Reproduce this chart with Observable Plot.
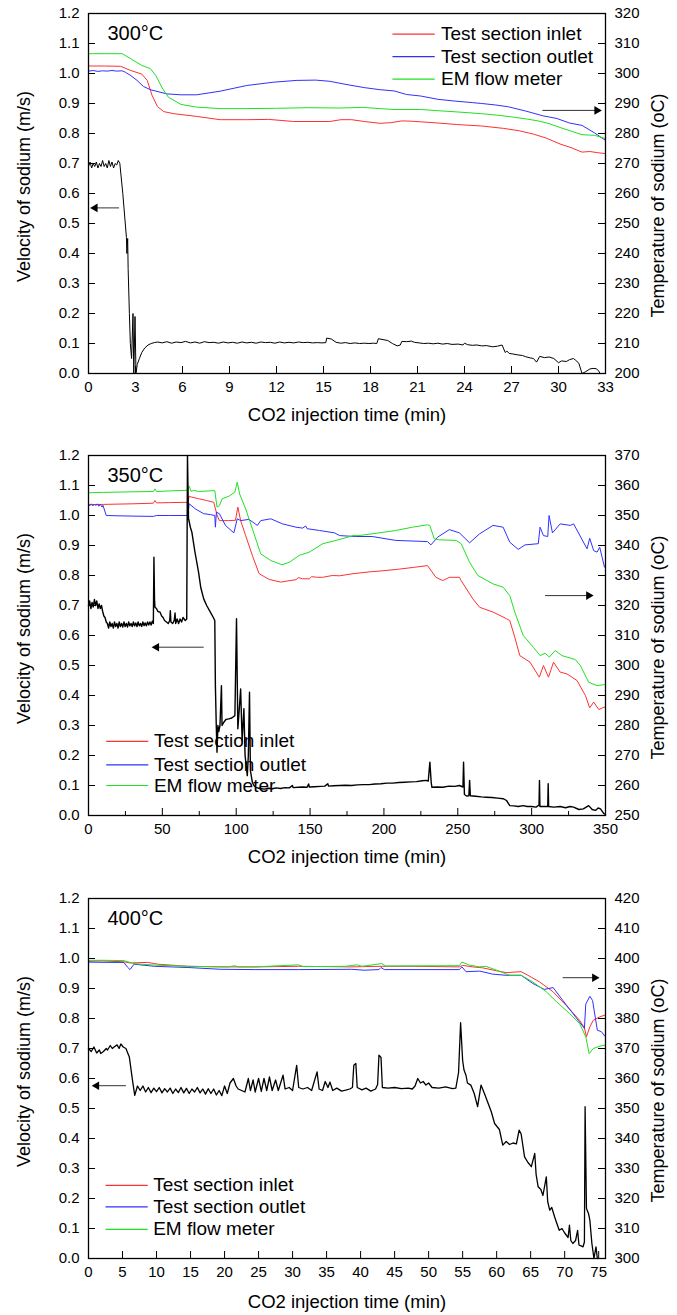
<!DOCTYPE html>
<html><head><meta charset="utf-8">
<script src="https://cdn.jsdelivr.net/npm/d3@7"></script>
<script src="https://cdn.jsdelivr.net/npm/@observablehq/plot@0.6"></script>
<style>
body{margin:0;background:#fff;}
#charts svg{display:block;}
</style></head><body><div id="charts"></div>
<script>
// ---------- shared labels ----------
const seriesNames = ["Test section inlet", "Test section outlet", "EM flow meter"];
const seriesColors = ["#ff3030", "#3030ff", "#22e022"];
const xTitle = "CO2 injection time (min)";
const yLeftTitle = "Velocity of sodium (m/s)";
const yRightTitle = "Temperature of sodium (oC)";
const velocityTicks = [0, 0.1, 0.2, 0.3, 0.4, 0.5, 0.6, 0.7, 0.8, 0.9, 1.0, 1.1, 1.2];

// ---------- panel 1 : 300°C ----------
const p1Label = "300°C";
const p1TimeTicks = [0, 3, 6, 9, 12, 15, 18, 21, 24, 27, 30, 33];
const p1TempRange = [200, 320];
const p1Inlet = [[0,302.5],[1,302.5],[2.05,302.4],[2.7,301.0],[3.4,299.8],[3.75,297.7],[4.05,292.8],[4.4,289.0],[4.8,287.3],[5.45,286.6],[6.9,285.7],[8.4,284.6],[10.1,284.6],[11.5,284.7],[13.1,284.0],[15.4,284.0],[16.1,284.6],[16.8,284.6],[17.6,284.0],[18.6,283.4],[19.3,283.6],[20.0,284.2],[20.6,284.1],[21.2,283.9],[22.3,283.5],[23.5,283.0],[25.1,282.5],[26.5,281.7],[27.5,280.9],[28.4,279.8],[29.2,278.5],[30.1,276.5],[30.8,275.3],[31.5,273.8],[32.0,274.0],[32.5,273.6],[33,273.3]];
const p1Outlet = [[0,300.8],[0.3,301.0],[0.6,300.7],[0.9,300.9],[1.2,300.8],[1.5,301.0],[1.8,300.8],[2.15,300.9],[2.36,300.4],[2.7,299.3],[3.1,297.7],[3.5,295.7],[3.95,294.6],[5.0,293.2],[5.9,292.9],[6.9,292.9],[8.4,294.1],[10.1,296.0],[11.8,297.1],[13.3,297.7],[14.5,297.8],[15.4,297.4],[16.5,296.3],[17.6,295.3],[18.6,294.6],[19.5,294.2],[20.3,293.0],[21.2,292.5],[22.3,291.4],[23.4,290.8],[24.5,290.3],[25.1,290.0],[26.0,289.5],[26.8,288.9],[27.9,287.5],[29.0,285.9],[29.9,285.0],[30.7,283.5],[31.5,282.7],[32.3,280.2],[33,277.7]];
const p1EM = [[0,306.6],[1,306.6],[2.15,306.6],[2.7,304.9],[3.4,302.7],[3.95,301.6],[4.3,299.3],[4.7,295.2],[5.1,292.1],[5.9,289.7],[6.9,288.8],[8.4,288.3],[10,288.3],[12,288.4],[14,288.6],[16,288.5],[17.5,288.7],[18.6,288.3],[19.5,288.0],[21.2,288.0],[22.3,287.6],[23.5,287.2],[25.1,286.6],[26.3,286.0],[27.2,285.4],[28.0,284.8],[28.7,284.2],[29.4,283.3],[30.1,282.0],[30.8,280.8],[31.5,279.6],[32.3,279.4],[33,278.3]];
const p1Velocity = [[0,0.69],[0.1,0.705],[0.2,0.685],[0.3,0.70],[0.4,0.69],[0.5,0.705],[0.6,0.685],[0.7,0.70],[0.8,0.69],[0.9,0.71],[1.0,0.69],[1.1,0.70],[1.2,0.685],[1.3,0.71],[1.4,0.69],[1.5,0.705],[1.6,0.685],[1.7,0.70],[1.8,0.695],[1.9,0.71],[2.0,0.70],[2.19,0.60],[2.42,0.454],[2.45,0.40],[2.5,0.45],[2.53,0.35],[2.61,0.20],[2.67,0.10],[2.75,0.05],[2.84,0.20],[2.89,0],[2.97,0.19],[3.03,0],[3.11,0.03],[3.25,0.05],[3.4,0.07],[3.59,0.085],[3.8,0.095],[4.0,0.10],[4.2,0.103],[4.42,0.105],[4.7,0.102],[5.0,0.106],[5.3,0.101],[5.6,0.105],[5.9,0.103],[6.2,0.107],[6.5,0.102],[6.8,0.105],[7.1,0.101],[7.4,0.106],[7.7,0.103],[8.0,0.104],[8.3,0.101],[8.6,0.105],[8.9,0.102],[9.2,0.104],[9.5,0.101],[9.8,0.105],[10.1,0.102],[10.4,0.104],[10.7,0.101],[11.0,0.105],[11.3,0.103],[11.6,0.104],[11.9,0.101],[12.2,0.105],[12.5,0.102],[12.8,0.104],[13.1,0.102],[13.4,0.105],[13.7,0.103],[14.0,0.104],[14.3,0.102],[14.6,0.103],[14.9,0.102],[15.15,0.103],[15.2,0.118],[15.5,0.115],[15.8,0.104],[16.1,0.101],[16.4,0.103],[16.7,0.100],[17.0,0.102],[17.3,0.100],[17.6,0.101],[17.9,0.100],[18.2,0.101],[18.4,0.100],[18.5,0.116],[18.8,0.113],[19.1,0.110],[19.4,0.100],[19.7,0.092],[19.9,0.095],[20.0,0.107],[20.3,0.106],[20.6,0.108],[20.8,0.104],[21.1,0.102],[21.4,0.100],[21.7,0.101],[22.0,0.099],[22.3,0.101],[22.6,0.098],[22.9,0.100],[23.2,0.097],[23.6,0.098],[23.9,0.095],[24.0,0.101],[24.2,0.096],[24.5,0.094],[24.8,0.095],[25.1,0.092],[25.4,0.093],[25.8,0.089],[26.1,0.091],[26.4,0.095],[26.6,0.070],[26.7,0.075],[26.85,0.067],[27.1,0.065],[27.4,0.062],[27.7,0.060],[27.9,0.056],[28.2,0.052],[28.4,0.050],[28.6,0.038],[28.8,0.057],[29.1,0.053],[29.4,0.055],[29.7,0.050],[30.0,0.036],[30.2,0.042],[30.5,0.040],[30.7,0.046],[30.95,0.050],[31.1,0.044],[31.3,0.034],[31.5,0.0],[31.7,0.005],[32.0,0.015],[32.2,0.017],[32.4,0.016],[32.55,0.010],[32.65,0.0],[33,0.0]];
const p1Legend = {x1: 19.4, x2: 22.1, xText: 22.5, v: [1.131, 1.056, 0.981]};
const p1Arrows = [{x1: 1.95, x2: 0.42, v: 0.552}, {x1: 28.97, x2: 32.45, v: 0.877}];

// ---------- panel 2 : 350°C ----------
const p2Label = "350°C";
const p2TimeTicks = [0, 50, 100, 150, 200, 250, 300, 350];
const p2TimeMinor = [25, 75, 125, 175, 225, 275, 325];
const p2TempRange = [250, 370];
const p2Inlet = [[0,353.6],[10,353.7],[20,353.8],[30,353.9],[43.9,354.1],[45,355.0],[46.1,354.2],[55,354.3],[67.3,354.4],[68.2,356.4],[70,356.1],[74.5,355.6],[80,355.0],[84.8,354.4],[87,350.2],[88.6,348.3],[95,348.3],[99.5,348.4],[101.1,352.8],[103,348.3],[106.4,343.3],[110.9,336.7],[115.5,330.6],[122.3,328.7],[130.2,327.8],[135,328.2],[140.5,328.6],[142,329.3],[145,328.9],[149.5,328.9],[151,329.6],[155,329.4],[158.6,329.4],[165,330.0],[170,329.9],[179.1,330.6],[190,331.2],[200,331.6],[210,332.1],[220,332.7],[229.5,333.3],[235.2,329.4],[239.8,328.3],[244.3,329.4],[251.1,329.4],[252.3,328.3],[260.2,322.2],[264.8,319.4],[273.9,317.8],[283,315.6],[285.2,315.0],[288.6,309.4],[292,303.3],[298.9,301.1],[305.2,296.1],[308,300],[311.4,296.1],[314.8,301.1],[319.3,297.8],[323.9,297.2],[330.7,295],[336.4,290],[339.3,285.9],[342,287.8],[345.5,285.3],[348.9,286.1],[350,286.1]];
const p2Outlet = [[0,353.6],[1,353.3],[2,353.9],[3,353.2],[4,353.8],[5,353.3],[6,353.9],[7,353.1],[8,353.7],[9.2,352.8],[9.8,353.4],[12,350],[20,349.9],[30,349.8],[43.9,349.7],[46.1,350.0],[55,350.0],[67.3,350],[68.2,353.9],[72.3,352.2],[78,350.6],[82.5,350.3],[85.5,350],[85.9,346.1],[86.6,351.1],[88.6,350.6],[92.7,346.7],[98.4,344.2],[100.7,348.9],[103,348.3],[108.6,348.7],[114.3,346.7],[116.6,348.3],[123.4,348.9],[131.4,347.2],[140.5,346.1],[145,345.8],[147,346.5],[148,345.6],[156.4,345],[166.6,344.2],[170,343.3],[180.7,343.0],[192,343],[207.9,341.7],[229.5,341.3],[231.8,340.2],[236.4,342.8],[244.3,345.3],[251.1,344.2],[258,340.9],[264.8,343.9],[273.9,346.7],[280.7,346.1],[285.2,341.1],[290.9,338.7],[295.5,340.2],[304.5,340.6],[305.7,346.1],[308,343.3],[310.9,343],[311.8,350],[314.1,344.2],[319.3,347.2],[326.1,346.7],[328.4,347.2],[337.5,338.9],[339.3,342.4],[342,338.3],[344.3,337.8],[346.1,339.4],[349.3,332.8],[350,332.5]];
const p2EM = [[0,357.6],[10,357.7],[20,357.8],[30,357.9],[43.9,358.0],[45,358.9],[46.1,358.0],[55,358.2],[67.3,358.4],[68.2,359.8],[69.5,358.0],[71.1,358.4],[74.5,358.0],[85.5,358.3],[87,352.8],[88.6,353.3],[90.5,355.6],[95,356.4],[99.1,357.8],[100.7,361.1],[102.3,357.2],[106.4,352.2],[110.9,345.6],[116.6,337.2],[123.4,335],[130.9,333.6],[135.9,334.4],[142.7,336.7],[149.5,337.8],[158.6,340.6],[167.7,341.7],[179.1,343.3],[182.9,343.3],[196.6,344.2],[207.9,345],[219.3,346.1],[229.5,346.9],[231,346.7],[234.1,342.2],[237.5,341.9],[248.9,341.7],[252.3,340.6],[258,334.4],[263.6,330],[273.9,327.2],[280.7,326.1],[285.2,323.3],[288.6,317.8],[294.3,310],[301.1,306.1],[305.7,303.3],[309.1,304.1],[312,302.8],[315.9,305],[320.5,303.3],[329.5,302],[333,300],[338.6,294.4],[344.3,293.3],[348.9,293.6],[350,293.6]];
const p2Velocity = [[0,0.70],[0.8,0.715],[1.6,0.69],[2.4,0.71],[3.2,0.695],[4.0,0.72],[4.8,0.70],[5.6,0.715],[6.4,0.69],[7.2,0.705],[8.0,0.69],[8.8,0.70],[9.6,0.68],[10.4,0.665],[11.2,0.66],[12.0,0.645],[12.8,0.64],[13.6,0.625],[14.4,0.645],[15.2,0.63],[16.0,0.64],[16.8,0.625],[17.6,0.645],[18.4,0.63],[19.2,0.64],[20.0,0.625],[20.8,0.645],[21.6,0.63],[22.4,0.64],[23.2,0.628],[24.0,0.645],[24.8,0.63],[25.6,0.64],[26.4,0.628],[27.2,0.645],[28.0,0.632],[28.8,0.64],[29.6,0.63],[30.4,0.645],[31.2,0.632],[32.0,0.642],[32.8,0.63],[33.6,0.645],[34.4,0.632],[35.2,0.64],[36.0,0.63],[36.8,0.645],[37.6,0.633],[38.4,0.642],[39.2,0.632],[40.0,0.645],[40.8,0.635],[41.6,0.645],[42.4,0.635],[43.2,0.648],[43.9,0.64],[44.3,0.861],[44.7,0.72],[45.0,0.694],[46.0,0.69],[47.0,0.68],[48.4,0.678],[49.5,0.665],[50.5,0.66],[51.5,0.65],[53.0,0.644],[54.0,0.64],[55.0,0.65],[55.4,0.683],[55.8,0.645],[57.0,0.64],[58.0,0.65],[58.6,0.675],[59.0,0.64],[60.0,0.655],[61.0,0.64],[62.0,0.655],[63.0,0.645],[64.0,0.66],[65.5,0.65],[66.5,0.655],[67.0,1.2],[67.7,0.99],[69.0,0.96],[70.0,0.944],[72.0,0.88],[74.5,0.811],[76.0,0.76],[78.0,0.722],[80.0,0.70],[82.5,0.678],[84.5,0.66],[85.5,0.65],[85.9,0.433],[86.5,0.30],[87.0,0.211],[87.6,0.30],[88.2,0.28],[89.0,0.30],[90.0,0.433],[90.4,0.30],[91.5,0.31],[93.0,0.32],[95.0,0.322],[97.0,0.325],[99.1,0.333],[100.2,0.656],[101.1,0.289],[102.0,0.35],[103.0,0.422],[104.0,0.25],[105.2,0.356],[106.0,0.20],[107.5,0.133],[108.2,0.20],[109.0,0.411],[109.6,0.15],[110.9,0.111],[112.0,0.10],[113.2,0.094],[116,0.09],[119,0.088],[122,0.091],[124.5,0.089],[127,0.092],[130,0.09],[133,0.093],[136,0.092],[138,0.10],[138.5,0.093],[142,0.094],[145,0.095],[148,0.094],[149,0.105],[149.5,0.095],[153,0.096],[157,0.097],[160,0.098],[162,0.106],[162.5,0.098],[166,0.099],[170,0.1],[174,0.101],[178,0.1],[182,0.102],[186,0.103],[190,0.103],[194,0.105],[198,0.106],[202,0.108],[206,0.108],[210,0.11],[214,0.111],[218,0.112],[222,0.113],[226,0.116],[228.4,0.117],[230.0,0.115],[231.1,0.178],[232.0,0.11],[232.5,0.094],[236,0.095],[239.8,0.094],[244,0.098],[248,0.097],[251.1,0.1],[253.5,0.095],[253.9,0.178],[254.5,0.07],[256,0.065],[257.5,0.066],[258,0.117],[258.5,0.066],[262,0.064],[266,0.062],[269.3,0.061],[273,0.06],[277,0.058],[280.7,0.056],[283,0.05],[285.2,0.033],[288,0.032],[291,0.03],[294.3,0.033],[297,0.03],[300,0.03],[303,0.028],[305,0.035],[305.3,0.117],[305.6,0.03],[308,0.03],[310.9,0.03],[311.2,0.106],[311.5,0.03],[315,0.028],[319.3,0.03],[323,0.026],[326,0.03],[328.4,0.028],[332,0.02],[335,0.022],[338.6,0.033],[341,0.02],[343.2,0.017],[345,0.025],[346.6,0.022],[348.9,0.006],[350,0.004]];
const p2Legend = {x1: 12, x2: 40.5, xText: 44.3, v: [0.247, 0.169, 0.100]};
const p2Arrows = [{x1: 78, x2: 46.1, v: 0.561}, {x1: 309.1, x2: 338.6, v: 0.733}];

// ---------- panel 3 : 400°C ----------
const p3Label = "400°C";
const p3TimeTicks = [0, 5, 10, 15, 20, 25, 30, 35, 40, 45, 50, 55, 60, 65, 70, 75];
const p3TimeMax = 76;
const p3TempRange = [300, 420];
const p3Inlet = [[0,399.1],[2,399.2],[5.2,398.9],[6.2,398.5],[7.2,398.6],[8.7,398.7],[10.2,398.1],[12.1,397.8],[14.6,397.4],[19.5,397.2],[24.5,397.2],[30.9,397.4],[38.7,397.2],[42.7,397.4],[48,397.4],[54.5,397.2],[55,397.7],[56.5,397.2],[57.9,396.9],[60,395.9],[61.4,395.3],[63.6,395.6],[64.6,394.4],[66.3,392.2],[68.3,388.9],[70.2,384.4],[72.2,379.4],[72.9,376.9],[73.2,373.9],[73.7,377.2],[74.2,379.4],[75.2,380.6],[75.9,381.1]];
const p3Outlet = [[0,398.8],[3,398.7],[5.2,398.7],[5.7,397.2],[6.1,396.3],[6.7,398.1],[9.7,397.4],[14.6,397.0],[19.5,396.4],[24.5,396.3],[30.9,396.3],[38.7,396.4],[40.5,396.1],[42.7,396.3],[43.0,397.0],[43.5,396.3],[54.5,396.3],[54.9,397.2],[55.5,395.6],[57.5,395.8],[59.4,394.8],[61.4,394.4],[63.6,394.4],[65.3,391.7],[67,389.7],[68.3,390.3],[69.7,386.1],[71.2,381.7],[72.9,376.7],[73.1,384.8],[73.7,387.4],[74.1,386],[74.8,376.1],[75.4,375.6],[75.9,374.1]];
const p3EM = [[0,399.4],[2,399.4],[5.2,399.3],[6.7,398.3],[9.7,397.8],[14.6,397.4],[20.5,397.2],[21.5,397.6],[22,397.2],[24.5,397.2],[30.9,397.9],[31.5,397.3],[37.8,397.4],[39.5,397.9],[40.2,397.4],[43.1,398.3],[43.7,397.5],[54.5,397.6],[54.9,398.8],[56,397.8],[57.5,397.2],[58.4,397.4],[60,396.1],[61.9,394.4],[63.6,394.4],[65.3,392.2],[67.3,388.9],[68.8,385.6],[70.7,381.7],[72.2,378.3],[73.1,373.9],[73.6,368.3],[74.2,370],[75.2,370.8],[75.9,371.1]];
const p3Velocity = [[0,0.70],[0.4,0.69],[0.8,0.705],[1.2,0.685],[1.6,0.695],[1.8,0.683],[2.2,0.69],[2.6,0.70],[2.8,0.695],[3.2,0.71],[3.5,0.70],[3.8,0.706],[4.2,0.712],[4.5,0.70],[4.75,0.715],[5.1,0.705],[5.5,0.70],[6.0,0.672],[6.5,0.589],[6.8,0.544],[7.2,0.575],[7.6,0.56],[8.0,0.575],[8.4,0.555],[8.8,0.57],[9.2,0.553],[9.6,0.568],[10.0,0.556],[10.4,0.57],[10.8,0.552],[11.2,0.566],[11.6,0.555],[12.0,0.568],[12.4,0.55],[12.8,0.565],[13.2,0.553],[13.6,0.57],[14.0,0.552],[14.4,0.567],[14.8,0.55],[15.2,0.565],[15.6,0.555],[16.0,0.57],[16.4,0.552],[16.8,0.565],[17.2,0.548],[17.6,0.566],[18.0,0.55],[18.4,0.565],[18.8,0.545],[19.2,0.56],[19.6,0.543],[20.0,0.575],[20.4,0.55],[20.8,0.585],[21.3,0.60],[21.7,0.575],[22.0,0.565],[22.5,0.56],[23.0,0.555],[23.5,0.60],[23.8,0.56],[24.2,0.595],[24.5,0.555],[25.0,0.60],[25.4,0.557],[25.8,0.60],[26.2,0.56],[26.6,0.605],[27.0,0.56],[27.5,0.595],[27.9,0.56],[28.6,0.611],[28.9,0.565],[29.5,0.57],[30.0,0.56],[30.6,0.644],[30.9,0.57],[31.5,0.565],[32.2,0.57],[32.8,0.56],[33.6,0.622],[33.9,0.565],[34.4,0.56],[34.8,0.59],[35.2,0.57],[35.5,0.588],[35.9,0.56],[36.5,0.568],[37.2,0.558],[37.8,0.561],[38.4,0.565],[38.8,0.57],[39.0,0.644],[39.3,0.65],[39.5,0.57],[40.2,0.562],[40.8,0.568],[41.5,0.558],[42.2,0.565],[42.5,0.58],[42.7,0.678],[43.0,0.67],[43.2,0.57],[44.0,0.568],[45.0,0.57],[46.0,0.566],[47.0,0.568],[47.6,0.565],[48.0,0.575],[48.4,0.60],[48.8,0.585],[49.2,0.59],[49.6,0.578],[50.0,0.585],[50.5,0.57],[51.5,0.568],[52.5,0.572],[53.5,0.566],[54.0,0.568],[54.4,0.62],[54.7,0.786],[55.0,0.66],[55.2,0.628],[55.5,0.61],[55.7,0.585],[56.2,0.578],[56.7,0.55],[57.2,0.506],[57.7,0.578],[58.2,0.55],[58.7,0.52],[59.2,0.49],[59.7,0.45],[60.4,0.43],[60.9,0.378],[61.4,0.39],[61.9,0.38],[62.4,0.385],[62.9,0.382],[63.3,0.428],[63.6,0.415],[64.1,0.339],[64.6,0.32],[65.1,0.306],[65.6,0.35],[65.8,0.28],[66.1,0.239],[66.5,0.23],[66.8,0.21],[67.3,0.272],[67.5,0.19],[67.8,0.161],[68.1,0.17],[68.5,0.14],[68.8,0.12],[69.2,0.094],[69.6,0.10],[70.0,0.085],[70.5,0.07],[70.7,0.111],[70.9,0.06],[71.2,0.05],[71.6,0.06],[71.9,0.094],[72.1,0.045],[72.4,0.042],[72.7,0.039],[72.9,0.055],[73.0,0.506],[73.2,0.167],[73.5,0.15],[73.7,0.128],[74.0,0.05],[74.3,0.0],[74.6,0.039],[74.8,0.0]];
const p3Legend = {x1: 2.5, x2: 8.7, xText: 9.5, v: [0.244, 0.172, 0.097]};
const p3Arrows = [{x1: 5.5, x2: 1.2, v: 0.576}, {x1: 69.7, x2: 74.4, v: 0.936}];

// ---------- drawing ----------
const FONT = "'Liberation Sans', Arial, Helvetica, sans-serif";

function panel(cfg) {
  const W = 677, ML = 88, MR = 72;
  const plotW = W - ML - MR;
  const plotH = cfg.height - cfg.mt - cfg.mb;
  const [t0, t1] = cfg.tempRange;
  const toV = T => (T - t0) / (t1 - t0) * 1.2;
  const tempTicks = d3.range(t0, t1 + 1, 10);
  const tempTickV = tempTicks.map(toV);
  const rows = arr => arr.map(([x, T]) => ({x, v: toV(T)}));
  const vel = cfg.velocity.map(([x, v]) => ({x, v}));
  const legendRows = seriesNames.map((name, i) => ({
    name, color: seriesColors[i], x1: cfg.legend.x1, x2: cfg.legend.x2, xText: cfg.legend.xText, v: cfg.legend.v[i]
  }));
  const arrows = cfg.arrows.map(a => ({...a, dir: a.x2 > a.x1 ? 1 : -1}));
  const marks = [
    // tick labels
    Plot.axisY({ticks: velocityTicks, anchor: "left", tickSize: 0, tickPadding: 9, tickFormat: d => d.toFixed(1), label: null, fontSize: 15}),
    Plot.axisY({ticks: tempTickV, anchor: "right", tickSize: 0, tickPadding: 9,
      tickFormat: v => String(Math.round(t0 + v / 1.2 * (t1 - t0))), label: null, fontSize: 15}),
    Plot.axisX({ticks: cfg.xTicks, anchor: "bottom", tickSize: 0, tickPadding: 8, tickFormat: d => String(d), label: null, fontSize: 15}),
    // inward tick marks
    Plot.tickY(velocityTicks, {y: d => d, insetRight: plotW - 7, stroke: "#000"}),
    Plot.tickY(tempTickV, {y: d => d, insetLeft: plotW - 7, stroke: "#000"}),
    Plot.tickX(cfg.xTicks, {x: d => d, insetTop: plotH - 7, stroke: "#000"}),
    Plot.tickX(cfg.xMinor || [], {x: d => d, insetTop: plotH - 4, stroke: "#000"}),
    // series
    Plot.line(rows(cfg.inlet), {x: "x", y: "v", stroke: seriesColors[0], strokeWidth: 1}),
    Plot.line(rows(cfg.outlet), {x: "x", y: "v", stroke: seriesColors[1], strokeWidth: 1}),
    Plot.line(rows(cfg.em), {x: "x", y: "v", stroke: seriesColors[2], strokeWidth: 1}),
    Plot.line(vel, {x: "x", y: "v", stroke: "#000", strokeWidth: cfg.velWidth}),
    // legend
    Plot.link(legendRows, {x1: "x1", x2: "x2", y1: "v", y2: "v", stroke: "color", strokeWidth: 1.2}),
    Plot.text(legendRows, {x: "xText", y: "v", text: "name", textAnchor: "start", lineAnchor: "middle", fontSize: 19, fill: "#000"}),
    // arrows
    Plot.link(arrows, {x1: "x1", x2: "x2", y1: "v", y2: "v", stroke: "#333", strokeWidth: 1}),
    Plot.dot(arrows, {x: "x2", y: "v", symbol: "triangle", r: 3.2, fill: "#000", stroke: null,
      rotate: d => d.dir * 90}),
    // panel label
    Plot.text([cfg.label], {frameAnchor: "top-left", dx: 19, dy: cfg.labelDy, text: d => d, textAnchor: "start", lineAnchor: "middle", fontSize: 20, fill: "#000"}),
    // axis titles
    Plot.text([yLeftTitle], {frameAnchor: "left", dx: -64, dy: -7, rotate: -90, text: d => d, textAnchor: "middle", lineAnchor: "middle", fontSize: 18, fill: "#000"}),
    Plot.text([yRightTitle], {frameAnchor: "right", dx: 53, dy: 12, rotate: -90, text: d => d, textAnchor: "middle", lineAnchor: "middle", fontSize: 18, fill: "#000"}),
    Plot.text([xTitle], {frameAnchor: "bottom", dy: cfg.xTitleDy, text: d => d, textAnchor: "middle", lineAnchor: "middle", fontSize: 18.5, fill: "#000"}),
    Plot.frame({stroke: "#000", strokeWidth: 1.3})
  ];
  return Plot.plot({
    width: W, height: cfg.height,
    marginLeft: ML, marginRight: MR, marginTop: cfg.mt, marginBottom: cfg.mb,
    x: {domain: cfg.xDomain},
    y: {domain: [0, 1.2]},
    style: {fontFamily: FONT, color: "#000", background: "#fff", overflow: "visible"},
    marks
  });
}

const holder = document.getElementById("charts");
holder.appendChild(panel({
  label: p1Label, labelDy: 20, height: 440, mt: 13, mb: 67, xTitleDy: 42, velWidth: 1,
  xDomain: [0, 33], xTicks: p1TimeTicks, tempRange: p1TempRange,
  inlet: p1Inlet, outlet: p1Outlet, em: p1EM, velocity: p1Velocity,
  legend: p1Legend, arrows: p1Arrows
}));
holder.appendChild(panel({
  label: p2Label, labelDy: 20, height: 430, mt: 15, mb: 55, xTitleDy: 42, velWidth: 1.4,
  xDomain: [0, 350], xTicks: p2TimeTicks, xMinor: p2TimeMinor, tempRange: p2TempRange,
  inlet: p2Inlet, outlet: p2Outlet, em: p2EM, velocity: p2Velocity,
  legend: p2Legend, arrows: p2Arrows
}));
holder.appendChild(panel({
  label: p3Label, labelDy: 20, height: 445, mt: 28, mb: 57, xTitleDy: 44, velWidth: 1.3,
  xDomain: [0, p3TimeMax], xTicks: p3TimeTicks, tempRange: p3TempRange,
  inlet: p3Inlet, outlet: p3Outlet, em: p3EM, velocity: p3Velocity,
  legend: p3Legend, arrows: p3Arrows
}));
</script>
</body></html>
